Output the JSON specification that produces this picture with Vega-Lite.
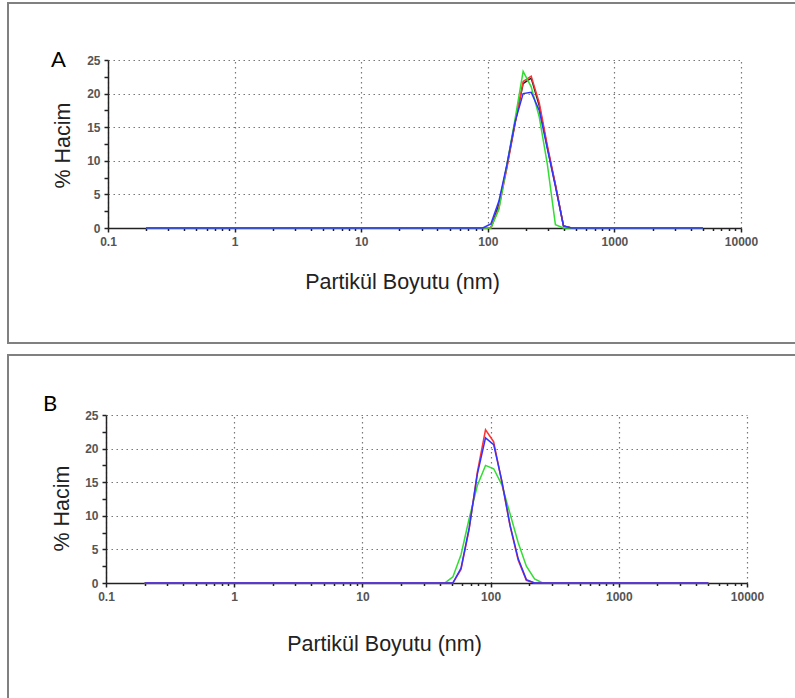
{
  "$schema": "https://vega.github.io/schema/vega-lite/v6.json",
  "padding": {"left": 7, "top": 2, "right": 0, "bottom": 0},
  "spacing": 10,
  "config": {
    "view": {"stroke": "#808080", "strokeWidth": 2},
    "font": "Liberation Sans",
    "axis": {
      "labelFont": "Liberation Sans", "labelFontWeight": "bold", "labelFontSize": 12, "labelColor": "#555555",
      "titleFont": "Liberation Sans", "titleFontSize": 21.5, "titleFontWeight": "normal", "titleColor": "#222222",
      "domainColor": "#222222", "domainWidth": 1.5, "tickColor": "#222222", "tickWidth": 1.5,
      "gridColor": "#777777", "gridDash": [1.5, 3.5], "gridWidth": 1.2, "labelPadding": 4
    },
    "title": {"font": "Lato", "fontSize": 22, "fontWeight": "normal", "color": "#000000", "anchor": "start", "frame": "group", "baseline": "alphabetic"}
  },
  "datasets": {
    "A": [
      {"run": "black", "size": 0.2, "vol": 0}, {"run": "black", "size": 105.7, "vol": 0}, {"run": "black", "size": 122.4, "vol": 3.5}, {"run": "black", "size": 141.8, "vol": 9.3}, {"run": "black", "size": 164.2, "vol": 15.7}, {"run": "black", "size": 190.1, "vol": 21.5}, {"run": "black", "size": 220.2, "vol": 22.3}, {"run": "black", "size": 255.0, "vol": 18.2}, {"run": "black", "size": 295.3, "vol": 12.0}, {"run": "black", "size": 342.0, "vol": 6.4}, {"run": "black", "size": 396.1, "vol": 0.3}, {"run": "black", "size": 458.7, "vol": 0}, {"run": "black", "size": 5000, "vol": 0},
      {"run": "red", "size": 0.2, "vol": 0}, {"run": "red", "size": 105.7, "vol": 0}, {"run": "red", "size": 122.4, "vol": 3.0}, {"run": "red", "size": 141.8, "vol": 9.0}, {"run": "red", "size": 164.2, "vol": 15.5}, {"run": "red", "size": 190.1, "vol": 21.8}, {"run": "red", "size": 220.2, "vol": 22.6}, {"run": "red", "size": 255.0, "vol": 18.6}, {"run": "red", "size": 295.3, "vol": 12.3}, {"run": "red", "size": 342.0, "vol": 6.5}, {"run": "red", "size": 396.1, "vol": 0.3}, {"run": "red", "size": 458.7, "vol": 0}, {"run": "red", "size": 5000, "vol": 0},
      {"run": "green", "size": 0.2, "vol": 0}, {"run": "green", "size": 105.7, "vol": 0}, {"run": "green", "size": 122.4, "vol": 2.8}, {"run": "green", "size": 141.8, "vol": 9.5}, {"run": "green", "size": 164.2, "vol": 16.2}, {"run": "green", "size": 190.1, "vol": 23.3}, {"run": "green", "size": 220.2, "vol": 21.0}, {"run": "green", "size": 255.0, "vol": 16.5}, {"run": "green", "size": 295.3, "vol": 9.5}, {"run": "green", "size": 342.0, "vol": 0.5}, {"run": "green", "size": 396.1, "vol": 0}, {"run": "green", "size": 5000, "vol": 0},
      {"run": "blue", "size": 0.2, "vol": 0}, {"run": "blue", "size": 91.28, "vol": 0}, {"run": "blue", "size": 105.7, "vol": 0.6}, {"run": "blue", "size": 122.4, "vol": 4.0}, {"run": "blue", "size": 141.8, "vol": 9.5}, {"run": "blue", "size": 164.2, "vol": 15.8}, {"run": "blue", "size": 190.1, "vol": 20.0}, {"run": "blue", "size": 220.2, "vol": 20.2}, {"run": "blue", "size": 255.0, "vol": 17.5}, {"run": "blue", "size": 295.3, "vol": 11.8}, {"run": "blue", "size": 342.0, "vol": 6.2}, {"run": "blue", "size": 396.1, "vol": 0.3}, {"run": "blue", "size": 458.7, "vol": 0}, {"run": "blue", "size": 5000, "vol": 0}
    ],
    "B": [
      {"run": "green", "size": 0.2, "vol": 0}, {"run": "green", "size": 43.82, "vol": 0}, {"run": "green", "size": 50.75, "vol": 0.9}, {"run": "green", "size": 58.77, "vol": 4.2}, {"run": "green", "size": 68.06, "vol": 9.6}, {"run": "green", "size": 78.82, "vol": 14.5}, {"run": "green", "size": 91.28, "vol": 17.5}, {"run": "green", "size": 105.7, "vol": 17.0}, {"run": "green", "size": 122.4, "vol": 14.6}, {"run": "green", "size": 141.8, "vol": 10.3}, {"run": "green", "size": 164.2, "vol": 6.0}, {"run": "green", "size": 190.1, "vol": 2.5}, {"run": "green", "size": 220.2, "vol": 0.6}, {"run": "green", "size": 255.0, "vol": 0}, {"run": "green", "size": 5000, "vol": 0},
      {"run": "red", "size": 0.2, "vol": 0}, {"run": "red", "size": 50.75, "vol": 0}, {"run": "red", "size": 58.77, "vol": 2.0}, {"run": "red", "size": 68.06, "vol": 8.0}, {"run": "red", "size": 78.82, "vol": 16.5}, {"run": "red", "size": 91.28, "vol": 22.8}, {"run": "red", "size": 105.7, "vol": 21.0}, {"run": "red", "size": 122.4, "vol": 15.0}, {"run": "red", "size": 141.8, "vol": 8.5}, {"run": "red", "size": 164.2, "vol": 3.4}, {"run": "red", "size": 190.1, "vol": 0.4}, {"run": "red", "size": 220.2, "vol": 0}, {"run": "red", "size": 5000, "vol": 0},
      {"run": "blue", "size": 0.2, "vol": 0}, {"run": "blue", "size": 50.75, "vol": 0}, {"run": "blue", "size": 58.77, "vol": 2.2}, {"run": "blue", "size": 68.06, "vol": 8.2}, {"run": "blue", "size": 78.82, "vol": 16.2}, {"run": "blue", "size": 91.28, "vol": 21.6}, {"run": "blue", "size": 105.7, "vol": 20.6}, {"run": "blue", "size": 122.4, "vol": 15.2}, {"run": "blue", "size": 141.8, "vol": 8.6}, {"run": "blue", "size": 164.2, "vol": 3.6}, {"run": "blue", "size": 190.1, "vol": 0.5}, {"run": "blue", "size": 220.2, "vol": 0}, {"run": "blue", "size": 5000, "vol": 0}
    ]
  },
  "vconcat": [
    {
      "width": 795, "height": 340,
      "title": {"text": "A", "dx": 43, "offset": -69},
      "data": {"name": "A"},
      "encoding": {
        "y": {"field": "vol", "type": "quantitative",
          "scale": {"domain": [0, 25], "range": [225, 57], "nice": false},
          "axis": {"title": "% Hacim", "orient": "left", "offset": -100,
            "values": [0,2.5,5,7.5,10,12.5,15,17.5,20,22.5,25],
            "labelExpr": "datum.value % 5 == 0 ? datum.label : ''",
            "grid": true,
            "gridOpacity": {"condition": {"test": "datum.value % 5 == 0", "value": 1}, "value": 0},
            "tickSize": 4, "labelOverlap": false, "labelFlush": false,
            "titleX": -45, "titleY": 142, "titleBaseline": "middle", "titleAlign": "center", "titleAngle": -90}},
        "color": {"field": "run", "type": "nominal",
          "scale": {"domain": ["black", "red", "green", "blue"], "range": ["#222222", "#ff3333", "#33dd33", "#3333ff"]},
          "legend": null}
      },
      "layer": [
        {
          "transform": [{"filter": "datum.run != 'blue'"}],
          "mark": {"type": "line", "strokeWidth": 1.5, "clip": false},
          "encoding": {
            "x": {"field": "size", "type": "quantitative",
              "scale": {"type": "log", "domain": [0.1, 10000], "range": [100, 733]},
              "axis": {"orient": "top", "title": null, "grid": true, "labels": false, "ticks": false, "domain": false,
                "values": [0.1, 1, 10, 100, 1000, 10000]}}
          }
        },
        {
          "transform": [{"filter": "datum.run == 'blue'"}],
          "mark": {"type": "line", "strokeWidth": 1.5, "clip": false},
          "encoding": {
            "x": {"field": "size", "type": "quantitative",
              "scale": {"type": "log", "domain": [0.1, 10000], "range": [100, 733]},
              "axis": {"title": "Partikül Boyutu (nm)", "orient": "bottom", "offset": -115, "grid": false,
                "values": [0.1,0.2,0.3,0.4,0.5,0.6,0.7,0.8,0.9,1,2,3,4,5,6,7,8,9,10,20,30,40,50,60,70,80,90,100,200,300,400,500,600,700,800,900,1000,2000,3000,4000,5000,6000,7000,8000,9000,10000],
                "labelExpr": "abs(log(datum.value)/LN10 - round(log(datum.value)/LN10)) < 0.001 ? format(datum.value, '~g') : ''",
                "tickSize": {"condition": {"test": "abs(log(datum.value)/LN10 - round(log(datum.value)/LN10)) < 0.001", "value": 4}, "value": 2.5},
                "labelOverlap": false, "labelFlush": false,
                "titleX": 394, "titleY": 60, "titleBaseline": "alphabetic", "titleAlign": "center"}}
          }
        }
      ],
      "resolve": {"axis": {"x": "independent"}}
    },
    {
      "width": 795, "height": 345,
      "title": {"text": "B", "dx": 35, "offset": -61},
      "data": {"name": "B"},
      "encoding": {
        "y": {"field": "vol", "type": "quantitative",
          "scale": {"domain": [0, 25], "range": [228, 60], "nice": false},
          "axis": {"title": "% Hacim", "orient": "left", "offset": -98,
            "values": [0,2.5,5,7.5,10,12.5,15,17.5,20,22.5,25],
            "labelExpr": "datum.value % 5 == 0 ? datum.label : ''",
            "grid": true,
            "gridOpacity": {"condition": {"test": "datum.value % 5 == 0", "value": 1}, "value": 0},
            "tickSize": 4, "labelOverlap": false, "labelFlush": false,
            "titleX": -44, "titleY": 153, "titleBaseline": "middle", "titleAlign": "center", "titleAngle": -90}},
        "color": {"field": "run", "type": "nominal",
          "scale": {"domain": ["black", "red", "green", "blue"], "range": ["#222222", "#ff3333", "#33dd33", "#3333ff"]},
          "legend": null}
      },
      "layer": [
        {
          "transform": [{"filter": "datum.run != 'blue'"}],
          "mark": {"type": "line", "strokeWidth": 1.5, "clip": false},
          "encoding": {
            "x": {"field": "size", "type": "quantitative",
              "scale": {"type": "log", "domain": [0.1, 10000], "range": [98, 739]},
              "axis": {"orient": "top", "title": null, "grid": true, "labels": false, "ticks": false, "domain": false,
                "values": [0.1, 1, 10, 100, 1000, 10000]}}
          }
        },
        {
          "transform": [{"filter": "datum.run == 'blue'"}],
          "mark": {"type": "line", "strokeWidth": 1.5, "clip": false},
          "encoding": {
            "x": {"field": "size", "type": "quantitative",
              "scale": {"type": "log", "domain": [0.1, 10000], "range": [98, 739]},
              "axis": {"title": "Partikül Boyutu (nm)", "orient": "bottom", "offset": -117, "grid": false,
                "values": [0.1,0.2,0.3,0.4,0.5,0.6,0.7,0.8,0.9,1,2,3,4,5,6,7,8,9,10,20,30,40,50,60,70,80,90,100,200,300,400,500,600,700,800,900,1000,2000,3000,4000,5000,6000,7000,8000,9000,10000],
                "labelExpr": "abs(log(datum.value)/LN10 - round(log(datum.value)/LN10)) < 0.001 ? format(datum.value, '~g') : ''",
                "tickSize": {"condition": {"test": "abs(log(datum.value)/LN10 - round(log(datum.value)/LN10)) < 0.001", "value": 4}, "value": 2.5},
                "labelOverlap": false, "labelFlush": false,
                "titleX": 376, "titleY": 67, "titleBaseline": "alphabetic", "titleAlign": "center"}}
          }
        }
      ],
      "resolve": {"axis": {"x": "independent"}}
    }
  ]
}
